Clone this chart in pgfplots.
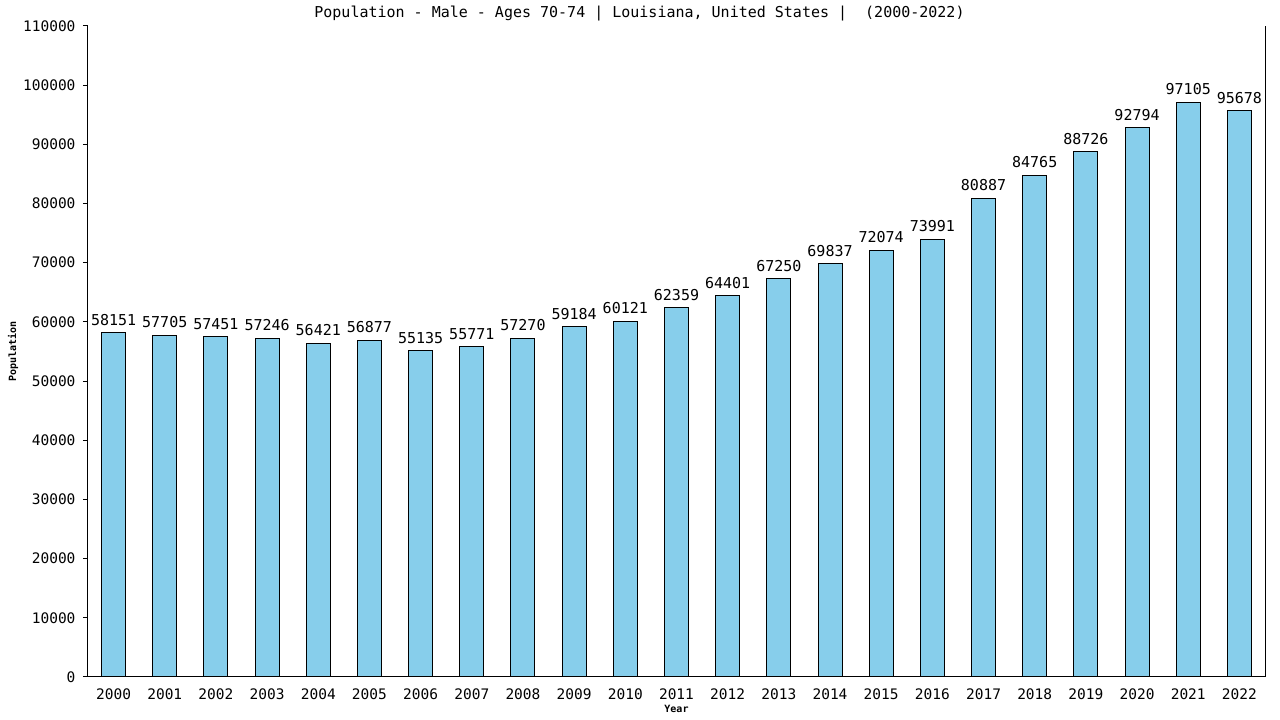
\documentclass[border=0pt]{standalone}
\usepackage{pgfplots}
\pgfplotsset{compat=1.18}
\usepackage{fontspec}
\setmainfont{DejaVu Sans Mono}
\setmonofont{DejaVu Sans Mono}
\definecolor{barblue}{HTML}{87CEEB}

\begin{document}
\begin{tikzpicture}[x=1pt,y=1pt]
    \path[use as bounding box] (-88,-43) rectangle (1192,677);
    \begin{axis}[
        anchor=south west,
        at={(0,0)},
        scale only axis,
        width=1177pt,
        height=651pt,
        xmin=-0.5, xmax=22.5,
        ymin=0, ymax=110000,
        axis x line*=bottom,
        axis y line*=left,
        axis line style={black, line width=1pt},
        ytick={0,10000,...,110000},
        xtick={0,...,22},
        xticklabels={2000,2001,2002,2003,2004,2005,2006,2007,2008,2009,2010,2011,2012,2013,2014,2015,2016,2017,2018,2019,2020,2021,2022},
        scaled y ticks=false,
        yticklabel={\pgfmathprintnumber[fixed,1000 sep={}]{\tick}},
        /pgf/number format/assume math mode=true,
        tick align=outside,
        major tick length=5pt,
        xtick style={draw=none},
        ytick style={black, line width=1pt},
        tick label style={font=\fontsize{14.5}{15}\selectfont},
        yticklabel style={xshift=-4pt},
        xticklabel style={yshift=-3pt},
        title={Population - Male - Ages 70-74 | Louisiana, United States |\ \ (2000-2022)},
        title style={at={(rel axis cs:0.5,1)}, anchor=center, yshift=6pt, xshift=-37pt,
            font=\fontsize{15}{16}\selectfont},
        xlabel={Year},
        xlabel style={at={(rel axis cs:0.5,0)}, anchor=center, yshift=-32pt,
            font=\fontsize{10}{12}\bfseries\selectfont},
        ylabel={Population},
        ylabel style={at={(rel axis cs:0,0.5)}, anchor=center, yshift=75pt,
            font=\fontsize{10}{12}\bfseries\selectfont},
        ybar,
        bar width=24pt,
        nodes near coords,
        nodes near coords style={anchor=center, yshift=13pt,
            font=\fontsize{15}{16}\selectfont,
            /pgf/number format/.cd, fixed, 1000 sep={}},
        clip=false,
    ]
        \addplot[fill=barblue, draw=black, line width=1pt] coordinates {
            (0,58151) (1,57705) (2,57451) (3,57246) (4,56421) (5,56877)
            (6,55135) (7,55771) (8,57270) (9,59184) (10,60121) (11,62359)
            (12,64401) (13,67250) (14,69837) (15,72074) (16,73991) (17,80887)
            (18,84765) (19,88726) (20,92794) (21,97105) (22,95678)
        };
        \draw[black, line width=1pt] (rel axis cs:1,0) -- (rel axis cs:1,1);
    \end{axis}
\end{tikzpicture}
\end{document}
